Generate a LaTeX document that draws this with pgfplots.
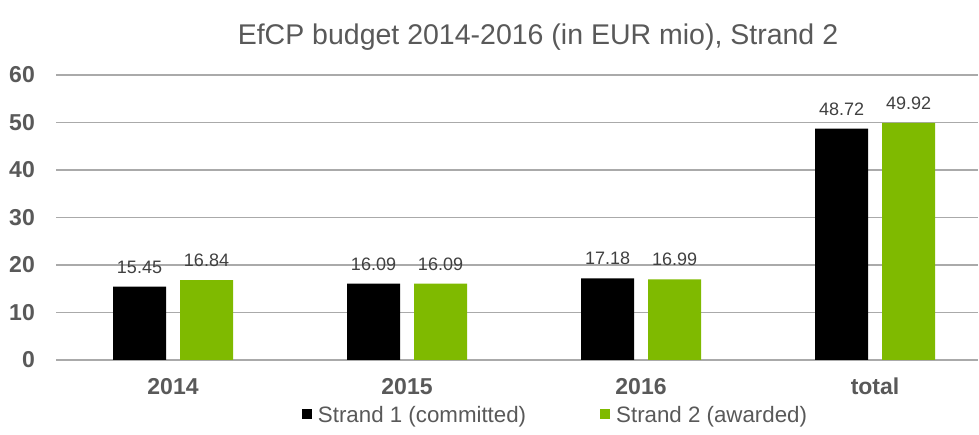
\documentclass[border=0pt]{standalone}
\usepackage{fontspec}
\setmainfont{Liberation Sans}
\usepackage{pgfplots}
\pgfplotsset{compat=1.18}
\definecolor{grn}{RGB}{127,186,0}
\definecolor{txt}{RGB}{89,89,89}
\definecolor{lbl}{RGB}{64,64,64}
\definecolor{grd}{RGB}{170,170,170}
\begin{document}
\begin{tikzpicture}[x=1pt,y=1pt]
\useasboundingbox (0,0) rectangle (979,435);
\node[text=txt, font=\fontsize{28.5}{32}\selectfont, anchor=base] at (538,390) {EfCP budget 2014-2016 (in EUR mio), Strand 2};
\begin{axis}[
  at={(56pt,75pt)}, anchor=south west,
  scale only axis, width=922pt, height=285pt,
  ybar, bar width=53pt, ybar=14pt,
  xmin=-0.5, xmax=3.44, ymin=0, ymax=60,
  ytick={0,10,...,60},
  xtick={0,1,2,3}, xticklabels={2014,2015,2016,total},
  ymajorgrids, grid style={grd, line width=1.3pt},
  axis line style={draw=none},
  major tick length=0pt,
  tick label style={text=txt, font=\bfseries\fontsize{23}{26}\selectfont, inner sep=0pt},
  yticklabel style={anchor=east, xshift=-21pt},
  xticklabel style={anchor=base, yshift=-35pt},
  /pgf/number format/assume math mode=true,
  nodes near coords,
  every node near coord/.append style={text=lbl, font=\fontsize{18}{21}\selectfont, anchor=base, inner sep=0pt, yshift=13.5pt, /pgf/number format/.cd, fixed, fixed zerofill, precision=2},
  legend style={at={(0.5407,-0.194)}, anchor=center, draw=none, legend columns=2, font=\fontsize{22.3}{26}\selectfont, text=txt,
    nodes={inner sep=0pt}, /tikz/every odd column/.append style={column sep=6pt}, /tikz/every even column/.append style={column sep=74pt}},
  legend image code/.code={\fill[#1] (0pt,-4pt) rectangle (10pt,6pt);},
]
\addplot[fill=black, draw=none] coordinates {(0,15.45) (1,16.09) (2,17.18) (3,48.72)};
\addplot[fill=grn, draw=none] coordinates {(0,16.84) (1,16.09) (2,16.99) (3,49.92)};
\legend{Strand 1 (committed), Strand 2 (awarded)}
\end{axis}
\end{tikzpicture}
\end{document}
